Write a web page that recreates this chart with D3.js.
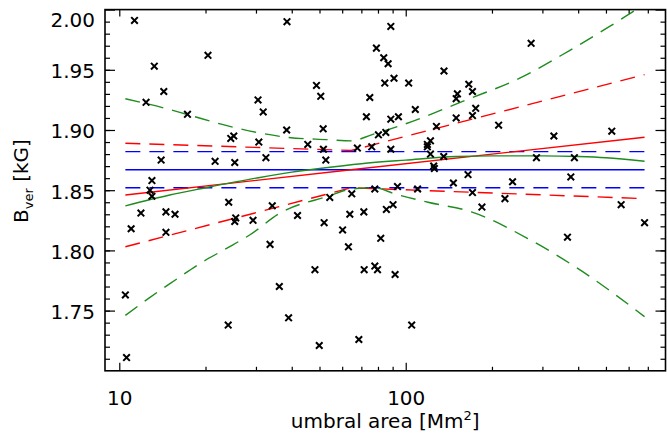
<!DOCTYPE html>
<html>
<head>
<meta charset="utf-8">
<script src="https://cdn.jsdelivr.net/npm/d3@7"></script>
<style>
body { margin: 0; background: #fff; }
svg text { font-family: "DejaVu Sans", sans-serif; fill: #000; }
</style>
</head>
<body>
<div id="chart"></div>
<script>
// measured points: umbral area [Mm^2] and B_ver [kG]
var AREA = [11.3, 13.25, 14.3, 12.4, 17.3, 20.4, 30.5, 31.8, 38.5, 38.4,
    25.1, 24.5, 30.7, 14.0, 21.6, 25.3, 32.5, 13.0, 12.8, 13.0,
    11.9, 14.55, 15.65, 11.0, 14.55, 24.1, 25.5, 25.3, 29.3, 34.2,
    33.6, 36.2, 39.0, 10.5, 24.0, 10.6, 88.7, 79.0, 83.8, 86.8,
    136, 48.8, 50.5, 84.5, 91.0, 102.4, 74.9, 108, 72.9, 88.7,
    94.3, 166, 171, 151.5, 150, 175.5, 171, 150, 128, 51.5,
    80.3, 85.2, 45.5, 51.6, 52.6, 67.8, 76.1, 88.7, 122, 119,
    119, 122, 135.7, 125.2, 125.9, 165, 146.7, 171, 54.3, 64.8,
    78.0, 93.6, 110, 41.9, 51.9, 63.8, 71.4, 85.6, 90.3, 60.2,
    81.8, 63.1, 48.2, 71.6, 78.0, 79.7, 91.8, 49.9, 68.6, 104.9,
    274, 211, 329, 524, 286, 388, 377, 236, 222, 184.5,
    367, 565, 682];
var BVER = [1.991, 1.953, 1.932, 1.923, 1.913, 1.962, 1.925, 1.915, 1.990, 1.900,
    1.895, 1.893, 1.890, 1.875, 1.874, 1.873, 1.877, 1.858, 1.850, 1.845,
    1.831, 1.832, 1.830, 1.818, 1.815, 1.840, 1.827, 1.824, 1.825, 1.837,
    1.805, 1.770, 1.744, 1.763, 1.738, 1.711, 1.986, 1.968, 1.960, 1.955,
    1.949, 1.937, 1.928, 1.939, 1.943, 1.939, 1.927, 1.917, 1.911, 1.909,
    1.911, 1.938, 1.932, 1.930, 1.926, 1.918, 1.912, 1.910, 1.903, 1.901,
    1.896, 1.898, 1.888, 1.884, 1.875, 1.885, 1.886, 1.884, 1.891, 1.888,
    1.886, 1.880, 1.878, 1.870, 1.868, 1.863, 1.856, 1.848, 1.844, 1.847,
    1.851, 1.853, 1.851, 1.829, 1.823, 1.830, 1.832, 1.834, 1.838, 1.817,
    1.810, 1.803, 1.784, 1.784, 1.787, 1.784, 1.780, 1.721, 1.726, 1.738,
    1.972, 1.904, 1.895, 1.899, 1.877, 1.877, 1.861, 1.857, 1.843, 1.836,
    1.811, 1.838, 1.823];

// mean value and its error band (blue)
var MEAN_X = [10.5, 682];
var MEAN_B = [1.867, 1.867];
var MEAN_UP = [1.882, 1.882];
var MEAN_LO = [1.852, 1.852];

// linear fit in log(area) with band (red)
var LIN_X = [10.5, 64.5, 682];
var LIN_FIT = [1.846, 1.867, 1.894];
var LIN_UP = [1.889, 1.883, 1.946];
var LIN_LO = [1.803, 1.852, 1.843];

// quadratic fit (green)
var QUAD_X = [10.5, 15, 20, 30, 40, 50, 70, 100, 150, 200, 300, 400, 500, 682];
var QUAD_FIT = [1.837, 1.846, 1.852, 1.860, 1.865, 1.868, 1.872, 1.875, 1.878, 1.8785,
    1.8785, 1.878, 1.877, 1.874];
var QUAD_UP_X = [10.5, 15.0, 17.2, 24.3, 31.8, 38.4, 53.4, 64.7, 75.9, 94.0,
    167, 250, 373, 515, 639, 682];
var QUAD_UP = [1.926, 1.917, 1.913, 1.903, 1.897, 1.894, 1.892, 1.891, 1.896, 1.903,
    1.926, 1.943, 1.966, 1.986, 2.000, 2.004];
var QUAD_LO_X = [10.5, 12.8, 15.6, 19.1, 23.4, 28.6, 36.4, 53.6, 64.7, 78.0,
    91.5, 119.6, 169.5, 270.7, 404.6, 682];
var QUAD_LO = [1.746, 1.761, 1.775, 1.789, 1.801, 1.813, 1.831, 1.845, 1.851, 1.852,
    1.847, 1.840, 1.832, 1.809, 1.784, 1.745];

var X_MAJOR = [10, 100];
var X_MINOR = [20, 30, 40, 50, 60, 70, 80, 90, 200, 300, 400, 500, 600, 700];
var Y_MAJOR = [1.75, 1.80, 1.85, 1.90, 1.95, 2.00];
var Y_MINOR = d3.range(171, 200).map(function(d) { return d / 100; });

var WIDTH = 667, HEIGHT = 441;
var LEFT = 105, RIGHT = 665.5, TOP = 9.6, BOTTOM = 370.8;
var DASH = '15,9';

var svg = d3.select('#chart').append('svg')
    .attr('width', WIDTH)
    .attr('height', HEIGHT);

svg.append('rect')
    .attr('width', WIDTH)
    .attr('height', HEIGHT)
    .attr('fill', '#fff');

var x = d3.scaleLog().domain([8.915, 807]).range([LEFT, RIGHT]);
var y = d3.scaleLinear().domain([1.70, 2.00]).range([BOTTOM, TOP]);

svg.append('clipPath').attr('id', 'plot-clip')
    .append('rect')
    .attr('x', LEFT).attr('y', TOP)
    .attr('width', RIGHT - LEFT).attr('height', BOTTOM - TOP);

var plot = svg.append('g').attr('clip-path', 'url(#plot-clip)');

/**
 * Draws one curve from an x array and a y array.
 */
function drawCurve(xs, ys, color, dashed, curve) {
    var pts = xs.map(function(d, i) { return [d, ys[i]]; });
    var line = d3.line()
        .x(function(d) { return x(d[0]); })
        .y(function(d) { return y(d[1]); })
        .curve(curve || d3.curveLinear);
    plot.append('path')
        .datum(pts)
        .attr('d', line)
        .attr('fill', 'none')
        .attr('stroke', color)
        .attr('stroke-width', 1.4)
        .attr('stroke-dasharray', dashed ? DASH : null);
}

var BLUE = '#0000ff', RED = '#ff0000', GREEN = '#1e8c1e';

drawCurve(MEAN_X, MEAN_B, BLUE, false);
drawCurve(MEAN_X, MEAN_UP, BLUE, true);
drawCurve(MEAN_X, MEAN_LO, BLUE, true);

drawCurve(LIN_X, LIN_FIT, RED, false);
drawCurve(LIN_X, LIN_UP, RED, true);
drawCurve(LIN_X, LIN_LO, RED, true);

drawCurve(QUAD_X, QUAD_FIT, GREEN, false, d3.curveMonotoneX);
drawCurve(QUAD_UP_X, QUAD_UP, GREEN, true, d3.curveMonotoneX);
drawCurve(QUAD_LO_X, QUAD_LO, GREEN, true, d3.curveMonotoneX);

// x markers
plot.selectAll('path.pt')
    .data(AREA)
    .enter().append('path')
    .attr('class', 'pt')
    .attr('transform', function(d, i) {
        return 'translate(' + x(d) + ',' + y(BVER[i]) + ')';
    })
    .attr('d', 'M-3.3,-3.3L3.3,3.3M-3.3,3.3L3.3,-3.3')
    .attr('stroke', '#000')
    .attr('stroke-width', 2);

// axes, ticks pointing inward on all four sides
function styleAxis(g) {
    g.select('.domain').remove();
    g.selectAll('line').attr('stroke', '#000').attr('stroke-width', 1.2);
    g.attr('font-size', 20).attr('font-family', '"DejaVu Sans", sans-serif');
}

svg.append('g').attr('transform', 'translate(' + LEFT + ',0)')
    .call(d3.axisLeft(y).tickValues(Y_MAJOR).tickSize(-10).tickPadding(10)
        .tickFormat(d3.format('.2f')))
    .call(styleAxis)
    .selectAll('text')
    .attr('y', function(d) { return Math.max(y(d), 19) - y(d) + 1.5; });
svg.append('g').attr('transform', 'translate(' + LEFT + ',0)')
    .call(d3.axisLeft(y).tickValues(Y_MINOR).tickSize(-5).tickFormat(''))
    .call(styleAxis);
svg.append('g').attr('transform', 'translate(' + RIGHT + ',0)')
    .call(d3.axisRight(y).tickValues(Y_MAJOR).tickSize(-10).tickFormat(''))
    .call(styleAxis);
svg.append('g').attr('transform', 'translate(' + RIGHT + ',0)')
    .call(d3.axisRight(y).tickValues(Y_MINOR).tickSize(-5).tickFormat(''))
    .call(styleAxis);

svg.append('g').attr('transform', 'translate(0,' + BOTTOM + ')')
    .call(d3.axisBottom(x).tickValues(X_MAJOR).tickSize(-8).tickPadding(20)
        .tickFormat(d3.format('d')))
    .call(styleAxis);
svg.append('g').attr('transform', 'translate(0,' + BOTTOM + ')')
    .call(d3.axisBottom(x).tickValues(X_MINOR).tickSize(-4).tickFormat(''))
    .call(styleAxis);
svg.append('g').attr('transform', 'translate(0,' + TOP + ')')
    .call(d3.axisTop(x).tickValues(X_MAJOR).tickSize(-7).tickFormat(''))
    .call(styleAxis);
svg.append('g').attr('transform', 'translate(0,' + TOP + ')')
    .call(d3.axisTop(x).tickValues(X_MINOR).tickSize(-4).tickFormat(''))
    .call(styleAxis);

svg.append('rect')
    .attr('x', LEFT).attr('y', TOP)
    .attr('width', RIGHT - LEFT).attr('height', BOTTOM - TOP)
    .attr('fill', 'none')
    .attr('stroke', '#000')
    .attr('stroke-width', 1.6);

// axis titles
var xt = svg.append('text')
    .attr('x', (LEFT + RIGHT) / 2)
    .attr('y', 428)
    .attr('text-anchor', 'middle')
    .attr('font-size', 20);
xt.append('tspan').text('umbral area [Mm');
xt.append('tspan').attr('dy', -8).attr('font-size', 13).text('2');
xt.append('tspan').attr('dy', 8).text(']');

var yt = svg.append('text')
    .attr('transform', 'translate(28,181) rotate(-90)')
    .attr('text-anchor', 'middle')
    .attr('font-size', 20);
yt.append('tspan').text('B');
yt.append('tspan').attr('dy', 5).attr('font-size', 13).text('ver');
yt.append('tspan').attr('dy', -5).text(' [kG]');
</script>
</body>
</html>
